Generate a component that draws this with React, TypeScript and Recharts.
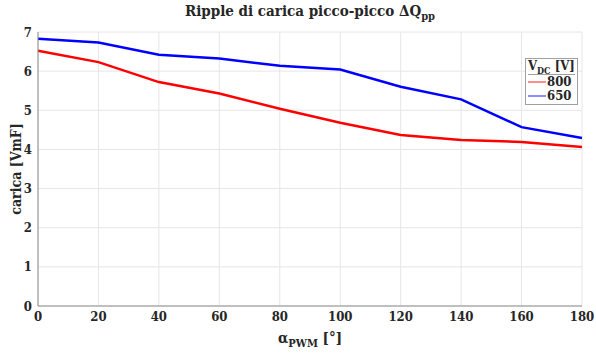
import React from 'react';
import { LineChart, Line, XAxis, YAxis, CartesianGrid } from 'recharts';

const alpha = [0, 20, 40, 60, 80, 100, 120, 140, 160, 180];
const q800 = [6.52, 6.23, 5.72, 5.43, 5.04, 4.68, 4.37, 4.24, 4.19, 4.06];
const q650 = [6.83, 6.73, 6.42, 6.32, 6.14, 6.04, 5.6, 5.28, 4.57, 4.29];
const xTicks = [0, 20, 40, 60, 80, 100, 120, 140, 160, 180];
const yTicks = [0, 1, 2, 3, 4, 5, 6, 7];
const series = [
  { key: 'v800', name: '800', color: '#ff0000' },
  { key: 'v650', name: '650', color: '#0000ff' },
];

const data = alpha.map((a, i) => ({ alpha: a, v800: q800[i], v650: q650[i] }));

const FONT = '"DejaVu Serif Condensed", "DejaVu Serif", serif';
const TXT = '#262626';
const AXIS = '#8c8c8c';

const LegendBox = () => (
  <div style={{ position: 'absolute', left: 525, top: 58, border: '1px solid #a0a0a0', background: '#fff', fontFamily: FONT, fontWeight: 'bold', color: TXT, fontSize: 13, padding: '0px 2px 1px 2px', lineHeight: '14px' }}>
    <div style={{ textAlign: 'center', borderBottom: '1px solid #a0a0a0', paddingBottom: 1 }}>
      V<sub style={{ fontSize: 9, lineHeight: 0 }}>DC</sub> [V]
    </div>
    {series.map((s) => (
      <div key={s.key} style={{ display: 'flex', alignItems: 'center' }}>
        <svg width={18} height={8} style={{ marginRight: 1 }}>
          <line x1={0} y1={4} x2={18} y2={4} stroke={s.color} strokeOpacity={0.6} strokeWidth={1.5} />
        </svg>
        <span>{s.name}</span>
      </div>
    ))}
  </div>
);

const App: React.FC = () => {
  return (
    <div style={{ position: 'absolute', left: 0, top: 0, width: 596, height: 354, background: '#fff' }}>
      <div style={{ position: 'absolute', left: 0, width: 620, top: 2, textAlign: 'center', fontFamily: FONT, fontWeight: 'bold', fontSize: 15, color: TXT }}>
        Ripple di carica picco-picco ΔQ<sub style={{ fontSize: 11 }}>pp</sub>
      </div>
      <LineChart width={596} height={354} data={data} margin={{ top: 32, right: 14, bottom: 0, left: 0 }}>
        <CartesianGrid stroke="#e6e6e6" />
        <XAxis
          dataKey="alpha"
          type="number"
          domain={[0, 180]}
          ticks={xTicks}
          stroke={AXIS}
          tickLine={false}
          tick={{ fill: TXT, fontFamily: FONT, fontWeight: 'bold', fontSize: 13 }}
          tickMargin={0}
          height={48}
          label={({ viewBox }: any) => (
            <text x={viewBox.x + viewBox.width / 2} y={viewBox.y + 37} textAnchor="middle" fill={TXT} fontFamily={FONT} fontWeight="bold" fontSize={15}>
              α<tspan fontSize={11} dy={4}>PWM</tspan><tspan dy={-4}> [°]</tspan>
            </text>
          )}
        />
        <XAxis xAxisId="top" orientation="top" dataKey="alpha" type="number" domain={[0, 180]} ticks={xTicks} stroke={AXIS} mirror height={0} tickSize={4} tickFormatter={() => ''} />
        <XAxis xAxisId="bot" orientation="bottom" dataKey="alpha" type="number" domain={[0, 180]} ticks={xTicks} stroke={AXIS} mirror height={0} tickSize={4} tickFormatter={() => ''} />
        <YAxis
          domain={[0, 7]}
          ticks={yTicks}
          stroke={AXIS}
          tickLine={false}
          width={38}
          tick={{ fill: TXT, fontFamily: FONT, fontWeight: 'bold', fontSize: 13 }}
          tickMargin={0}
          label={({ viewBox }: any) => {
            const cy = viewBox.y + viewBox.height / 2;
            return (
              <text x={21} y={cy} transform={`rotate(-90 21 ${cy})`} textAnchor="middle" fill={TXT} fontFamily={FONT} fontWeight="bold" fontSize={14}>
                carica [VmF]
              </text>
            );
          }}
        />
        <YAxis yAxisId="right" orientation="right" domain={[0, 7]} ticks={yTicks} stroke={AXIS} mirror width={0} tickSize={4} tickFormatter={() => ''} />
        <YAxis yAxisId="left2" orientation="left" domain={[0, 7]} ticks={yTicks} stroke={AXIS} mirror width={0} tickSize={4} tickFormatter={() => ''} />
        {series.map((s) => (
          <Line key={s.key} dataKey={s.key} name={s.name} stroke={s.color} strokeWidth={2.5} dot={false} isAnimationActive={false} />
        ))}
      </LineChart>
      <LegendBox />
    </div>
  );
};

export default App;
